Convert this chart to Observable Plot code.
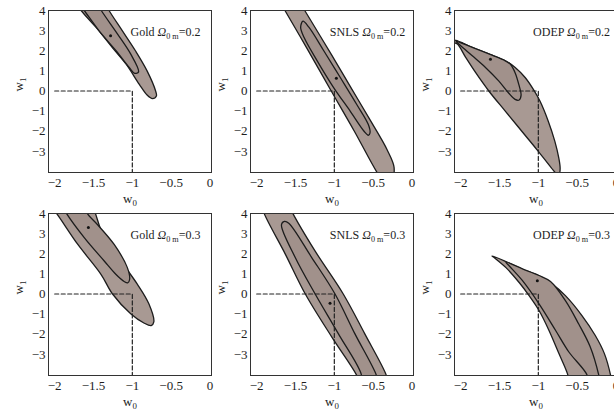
<!DOCTYPE html>
<html><head><meta charset="utf-8">
<script src="https://cdn.jsdelivr.net/npm/d3@7"></script>
<script src="https://cdn.jsdelivr.net/npm/@observablehq/plot@0.6"></script>
<style>
html,body{margin:0;padding:0;background:#fff;overflow:hidden;}
#wrap{position:relative;width:614px;height:411px;overflow:hidden;background:#fff;}
#wrap svg{position:absolute;}
</style></head><body><div id="wrap"></div>
<script>
// ---- data (w0, w1) ----
const xTicks = [-2, -1.5, -1, -0.5, 0];
const yTicks = [-3, -2, -1, 0, 1, 2, 3, 4];
const xDomain = [-2.08, 0.02];
const yDomain = [-4.05, 4];
const lcdmGuide = [[-2, 0], [-1, 0], [-1, -4.05]];

const goldOuter02 = [[-1.75,4.5],[-1.66,4.0],[-1.47,3.17],[-1.26,2.17],[-1.08,1.33],[-0.91,0.33],[-0.81,-0.2],[-0.74,-0.38],[-0.69,-0.25],[-0.70,0],[-0.81,1.0],[-0.96,2.0],[-1.13,3.0],[-1.30,4.0],[-1.37,4.5],[-1.56,4.8]];
const goldInner02 = [[-1.72,4.5],[-1.62,4.0],[-1.43,3.0],[-1.21,2.0],[-1.04,1.17],[-0.97,0.88],[-0.92,0.95],[-1.02,1.83],[-1.19,2.83],[-1.40,4.0],[-1.46,4.4],[-1.6,4.7]];
const goldBest02 = [-1.28, 2.75];

const snlsOuter02 = [[-1.71,4.5],[-1.636,4.0],[-1.36,2.17],[-1.04,0],[-0.742,-2.0],[-0.444,-4.08],[-0.37,-4.45],[-0.26,-4.35],[-0.23,-3.8],[-0.32,-2.92],[-0.53,-1.5],[-0.786,0.17],[-1.041,1.83],[-1.381,4.0],[-1.46,4.5],[-1.6,4.8]];
const snlsInner02 = [[-1.404,3.47],[-1.328,3.17],[-1.136,2.0],[-0.923,0.67],[-0.711,-0.67],[-0.562,-1.67],[-0.540,-2.08],[-0.562,-2.2],[-0.617,-2.0],[-0.796,-1.0],[-1.009,0.17],[-1.221,1.5],[-1.391,2.67],[-1.434,3.17]];
const snlsBest02 = [-0.974, 0.63];

const odepOuter02 = [[-2.10,2.5],[-2.064,2.52],[-1.851,2.17],[-1.596,1.78],[-1.426,1.5],[-1.298,1.17],[-1.170,0.67],[-1.064,0.08],[-0.979,-0.5],[-0.872,-1.5],[-0.787,-2.5],[-0.736,-3.33],[-0.719,-3.83],[-0.73,-4.1],[-0.766,-4.1],[-0.830,-3.83],[-1.0,-3.0],[-1.213,-2.0],[-1.426,-1.0],[-1.638,0],[-1.809,0.92],[-1.936,1.67],[-2.043,2.33],[-2.1,2.42]];
const odepInner02 = [[-2.06,2.47],[-1.851,2.17],[-1.596,1.78],[-1.426,1.5],[-1.36,1.33],[-1.298,0.9],[-1.25,0.3],[-1.222,-0.2],[-1.247,-0.45],[-1.30,-0.42],[-1.383,-0.1],[-1.511,0.5],[-1.681,1.17],[-1.851,1.75],[-2.0,2.25]];
const odepBest02 = [-1.617, 1.58];

const goldOuter03 = [[-2.06,4.4],[-1.979,4.02],[-1.702,2.46],[-1.404,0.98],[-1.255,0],[-1.021,-0.98],[-0.851,-1.44],[-0.757,-1.57],[-0.723,-1.39],[-0.787,-0.49],[-0.936,0.49],[-1.149,1.64],[-1.362,2.79],[-1.477,4.02],[-1.52,4.5],[-1.8,4.8]];
const goldInner03 = [[-1.92,4.5],[-1.851,4.02],[-1.617,2.79],[-1.362,1.64],[-1.213,0.98],[-1.106,0.62],[-1.06,0.55],[-1.035,0.72],[-1.064,1.31],[-1.234,2.46],[-1.447,3.44],[-1.583,4.02],[-1.62,4.4],[-1.78,4.7]];
const goldBest03 = [-1.566, 3.31];

const snlsOuter03 = [[-1.95,4.6],[-1.906,4.02],[-1.630,1.97],[-1.374,0],[-1.034,-2.13],[-0.715,-4.02],[-0.68,-4.4],[-0.5,-4.6],[-0.31,-4.4],[-0.332,-4.02],[-0.609,-1.97],[-0.885,0],[-1.247,2.13],[-1.536,4.02],[-1.58,4.4],[-1.77,4.7]];
const snlsInner03 = [[-1.643,3.61],[-1.587,3.52],[-1.289,1.80],[-0.991,0],[-0.736,-1.97],[-0.460,-4.02],[-0.44,-4.4],[-0.55,-4.6],[-0.66,-4.4],[-0.651,-4.02],[-0.949,-1.97],[-1.247,0],[-1.502,1.80],[-1.681,3.44]];
const snlsBest03 = [-1.055, -0.46];

const odepOuter03 = [[-1.596,1.89],[-1.417,1.61],[-1.204,1.23],[-0.991,0.90],[-0.821,0.49],[-0.651,-0.08],[-0.438,-1.07],[-0.268,-2.05],[-0.150,-2.95],[-0.07,-4.02],[-0.05,-4.5],[-0.6,-4.5],[-0.62,-4.02],[-0.736,-2.95],[-0.864,-1.80],[-0.991,-0.82],[-1.119,-0.08],[-1.247,0.57],[-1.417,1.31],[-1.566,1.80]];
const odepInner03 = [[-1.417,1.58],[-1.204,1.25],[-0.991,0.92],[-0.843,0.62],[-0.651,-0.33],[-0.481,-1.48],[-0.332,-2.62],[-0.22,-4.05],[-0.2,-4.5],[-0.37,-4.5],[-0.37,-4.05],[-0.609,-2.87],[-0.779,-1.80],[-0.991,-0.49],[-1.204,0.66],[-1.374,1.39]];
const odepBest03 = [-1.013, 0.66];

const titles = ["Gold Ω_{0 m}=0.2", "SNLS Ω_{0 m}=0.2", "ODEP Ω_{0 m}=0.2",
                "Gold Ω_{0 m}=0.3", "SNLS Ω_{0 m}=0.3", "ODEP Ω_{0 m}=0.3"];
const xLabel = "w_0";
const yLabel = "w_1";

// ---- layout ----
const ML = 48, MR = 8, MT = 10, MB = 40, FW = 163, FH = 162;
const panels = [
  {title: titles[0], outer: goldOuter02, inner: goldInner02, best: goldBest02, fl: 48,  ft: 10},
  {title: titles[1], outer: snlsOuter02, inner: snlsInner02, best: snlsBest02, fl: 250, ft: 10},
  {title: titles[2], outer: odepOuter02, inner: odepInner02, best: odepBest02, fl: 454, ft: 10},
  {title: titles[3], outer: goldOuter03, inner: goldInner03, best: goldBest03, fl: 48,  ft: 213},
  {title: titles[4], outer: snlsOuter03, inner: snlsInner03, best: snlsBest03, fl: 250, ft: 213},
  {title: titles[5], outer: odepOuter03, inner: odepInner03, best: odepBest03, fl: 454, ft: 213}
];

const fmt = d => d < 0 ? "\u2212" + Math.abs(d) : String(d);
const X = d => d[0], Y = d => d[1];

function richify(svg) {
  const NS = "http://www.w3.org/2000/svg";
  svg.querySelectorAll("text").forEach(t => {
    const s = t.textContent;
    if (!s.includes("_")) return;
    while (t.firstChild) t.removeChild(t.firstChild);
    const re = /_\{([^}]*)\}|_(.)|Ω|[^_Ω]+/g;
    let m, lowered = false;
    while ((m = re.exec(s))) {
      const ts = document.createElementNS(NS, "tspan");
      if (m[0][0] === "_") {
        ts.textContent = m[1] !== undefined ? m[1] : m[2];
        ts.setAttribute("font-size", "0.68em");
        if (!lowered) ts.setAttribute("dy", 3);
        lowered = true;
      } else {
        ts.textContent = m[0];
        if (lowered) { ts.setAttribute("dy", -3); lowered = false; }
        if (m[0] === "Ω") ts.setAttribute("font-style", "italic");
      }
      t.appendChild(ts);
    }
  });
}

const wrap = document.getElementById("wrap");
for (const p of panels) {
  const svg = Plot.plot({
    width: ML + FW + MR, height: MT + FH + MB,
    marginLeft: ML, marginRight: MR, marginTop: MT, marginBottom: MB,
    style: {background: "transparent", fontFamily: "'Liberation Serif', 'DejaVu Serif', serif", fontSize: "13px", color: "#1e1e1e", overflow: "visible"},
    x: {domain: xDomain, ticks: xTicks, tickSize: 0, tickPadding: 5, label: null, tickFormat: fmt},
    y: {domain: yDomain, ticks: yTicks, tickSize: 0, tickPadding: 3, label: null, tickFormat: fmt},
    marks: [
      Plot.line(p.outer, {x: X, y: Y, curve: "catmull-rom-closed", fill: "#a89993", stroke: "#1c1c1c", strokeWidth: 1.3, clip: true}),
      Plot.line(p.inner, {x: X, y: Y, curve: "catmull-rom-closed", fill: "#a1918b", stroke: "#1c1c1c", strokeWidth: 1.3, clip: true}),
      Plot.line(lcdmGuide, {x: X, y: Y, stroke: "#222", strokeWidth: 1.2, strokeDasharray: "4,2.5"}),
      Plot.dot([p.best], {x: X, y: Y, r: 1.5, fill: "#111", stroke: null}),
      Plot.frame({stroke: "#333", strokeWidth: 1}),
      Plot.text([p.title], {text: d => d, frameAnchor: "top-left", dx: 117, dy: 22, lineAnchor: "middle", textAnchor: "middle", fontSize: 12}),
      Plot.text([xLabel], {text: d => d, frameAnchor: "bottom", dy: 26, lineAnchor: "middle", fontSize: 13}),
      Plot.text([yLabel], {text: d => d, frameAnchor: "left", dx: -30, lineAnchor: "middle", rotate: -90, fontSize: 13})
    ]
  });
  richify(svg);
  svg.style.left = (p.fl - ML) + "px";
  svg.style.top = (p.ft - MT) + "px";
  wrap.appendChild(svg);
}
</script>
</body></html>
